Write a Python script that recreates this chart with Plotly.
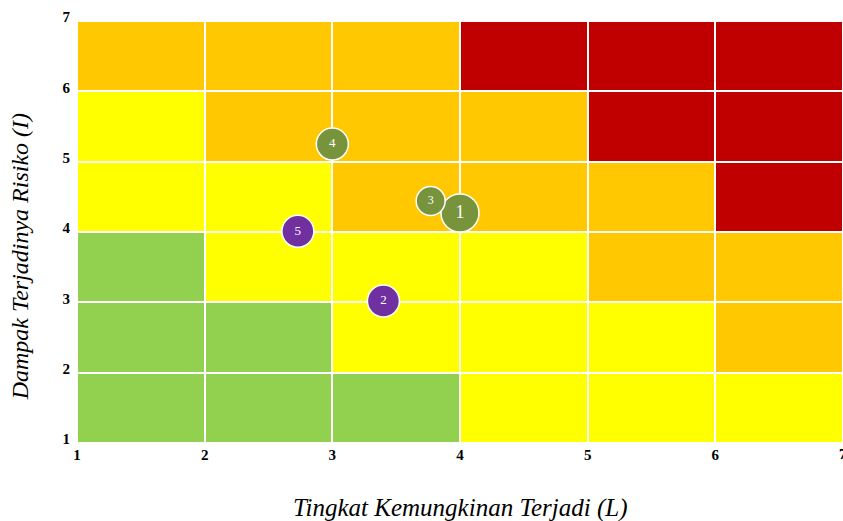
import plotly.graph_objects as go

# Risk matrix levels (rows from impact 1-2 up to 6-7), columns likelihood 1-2 .. 6-7
x_centers = [1.5, 2.5, 3.5, 4.5, 5.5, 6.5]
y_centers = [1.5, 2.5, 3.5, 4.5, 5.5, 6.5]
# 0=green, 1=yellow, 2=orange, 3=red
levels = [
    [0, 0, 0, 1, 1, 1],
    [0, 0, 1, 1, 1, 2],
    [0, 1, 1, 1, 2, 2],
    [1, 1, 2, 2, 2, 3],
    [1, 2, 2, 2, 3, 3],
    [2, 2, 2, 3, 3, 3],
]
level_colors = ["#92D050", "#FFFF00", "#FFC800", "#C00000"]

# Risk points
risk_ids = ["1", "2", "3", "4", "5"]
risk_L = [4.0, 3.40, 3.77, 3.0, 2.73]
risk_I = [4.27, 3.02, 4.44, 5.25, 4.01]
risk_size = [38, 32, 29, 32, 32]
risk_color = ["#77933C", "#7030A0", "#77933C", "#77933C", "#7030A0"]
risk_font = [18, 13, 12, 13, 13]

tick_vals = [1, 2, 3, 4, 5, 6, 7]
x_title = "Tingkat Kemungkinan Terjadi (L)"
y_title = "Dampak Terjadinya Risiko (I)"

colorscale = []
n = len(level_colors)
for i, c in enumerate(level_colors):
    colorscale.append([i / n, c])
    colorscale.append([(i + 1) / n, c])

fig = go.Figure()
fig.add_trace(go.Heatmap(
    x=x_centers, y=y_centers, z=levels,
    colorscale=colorscale, zmin=-0.5, zmax=3.5,
    showscale=False, xgap=2, ygap=2, hoverinfo="skip",
))
fig.add_trace(go.Scatter(
    x=risk_L, y=risk_I, mode="markers+text", text=risk_ids,
    textposition="middle center",
    marker=dict(size=risk_size, color=risk_color, line=dict(color="white", width=1.5), opacity=1),
    textfont=dict(color="white", family="Liberation Serif", size=risk_font),
    cliponaxis=False, showlegend=False,
))

fig.update_layout(
    width=843, height=521,
    margin=dict(l=77, r=0, t=21, b=78),
    plot_bgcolor="white", paper_bgcolor="white",
    font=dict(family="Liberation Serif", color="black"),
    showlegend=False,
)
fig.update_xaxes(
    range=[1, 7], tickvals=tick_vals, showgrid=False, zeroline=False,
    automargin=False,
    tickfont=dict(family="Liberation Serif", size=15, weight="bold"),
    ticks="", ticklabelstandoff=1,
)
fig.update_yaxes(
    range=[1, 7], tickvals=tick_vals, showgrid=False, zeroline=False,
    automargin=False,
    tickfont=dict(family="Liberation Serif", size=15, weight="bold"),
    ticks="", ticklabelstandoff=6, ticklabelshift=-4,
)
# Last x tick label (partly past the right edge, as in the reference)
fig.add_annotation(
    x=tick_vals[-1], y=0, xref="x", yref="paper", yanchor="top", yshift=-1,
    text="<b>%d</b>" % tick_vals[-1], showarrow=False,
    font=dict(family="Liberation Serif", size=15),
)
fig.add_annotation(
    x=0.5, y=-0.155, xref="paper", yref="paper", yanchor="middle",
    text="<i>%s</i>" % x_title, showarrow=False,
    font=dict(family="Liberation Serif", size=25),
)
fig.add_annotation(
    x=-0.0744, y=0.44, xref="paper", yref="paper", xanchor="center", yanchor="middle",
    text="<i>%s</i>" % y_title, showarrow=False, textangle=-90,
    font=dict(family="Liberation Serif", size=24),
)

fig.write_html(
    "out.html",
    config={"displayModeBar": False},
    post_script="document.body.style.margin='0';document.body.style.overflow='hidden';",
)
